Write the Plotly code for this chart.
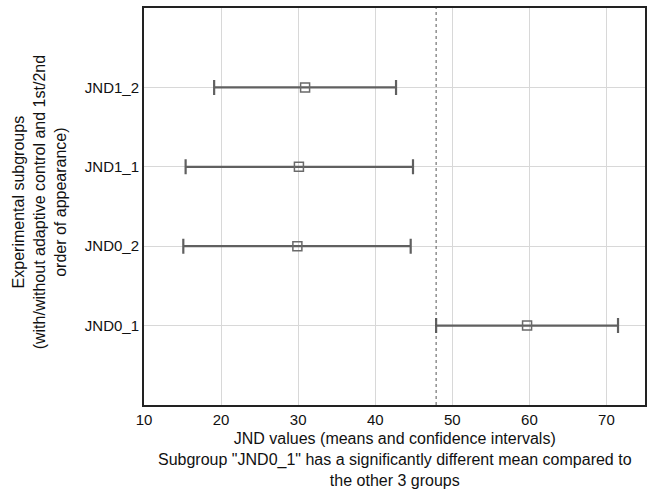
import plotly.graph_objects as go

groups = ["JND0_1", "JND0_2", "JND1_1", "JND1_2"]
means = [59.7, 29.9, 30.1, 30.9]
lower = [47.9, 15.1, 15.4, 19.1]
upper = [71.5, 44.6, 44.9, 42.7]
threshold = 47.9
xticks = [10, 20, 30, 40, 50, 60, 70]

ypos = list(range(1, len(groups) + 1))
err_plus = [u - m for u, m in zip(upper, means)]
err_minus = [m - l for m, l in zip(means, lower)]

FONT = "Liberation Sans, Arial, Helvetica, sans-serif"
fig = go.Figure()
fig.add_trace(go.Scatter(
    x=means, y=ypos, mode="markers",
    marker=dict(symbol="square-open", size=9, color="#6a6a6a", line=dict(width=1.5, color="#6a6a6a")),
    error_x=dict(type="data", symmetric=False, array=err_plus, arrayminus=err_minus,
                 color="#606060", thickness=2.2, width=7.5),
    showlegend=False,
))
fig.add_shape(type="line", x0=threshold, x1=threshold, y0=0, y1=1, yref="paper",
              line=dict(color="#555555", width=1, dash="dot"))

fig.update_xaxes(range=[10, 75], tickvals=xticks, showgrid=True, gridcolor="#d8d8d8", gridwidth=1,
                 zeroline=False, showline=True, linecolor="#222222", linewidth=2, mirror=True,
                 ticks="", tickfont=dict(size=15, color="#111111"))
fig.update_yaxes(range=[0, 5], tickvals=ypos, ticktext=groups, showgrid=True, gridcolor="#d8d8d8",
                 gridwidth=1, zeroline=False, showline=True, linecolor="#222222", linewidth=2,
                 mirror=True, ticks="", tickfont=dict(size=15, color="#111111"))

fig.update_layout(
    width=650, height=490, margin=dict(l=144, r=3, t=8, b=85),
    plot_bgcolor="white", paper_bgcolor="white",
    font=dict(family=FONT, size=16, color="#111111"),
    annotations=[
        dict(text="JND values (means and confidence intervals)<br>Subgroup \"JND0_1\" has a significantly different mean compared to<br>the other 3 groups",
             xref="paper", yref="paper", x=0.5, y=-0.058, xanchor="center", yanchor="top",
             showarrow=False, font=dict(size=16, family=FONT, color="#111111"), align="center"),
        dict(text="Experimental subgroups<br>(with/without adaptive control and 1st/2nd<br>order of appearance)",
             xref="paper", yref="paper", x=-0.208, y=0.51, xanchor="center", yanchor="middle",
             textangle=-90, showarrow=False, font=dict(size=16, family=FONT, color="#111111"), align="center"),
    ],
)
fig.write_html("out.html", config={"displayModeBar": False},
               post_script="document.body.style.margin='0';")
